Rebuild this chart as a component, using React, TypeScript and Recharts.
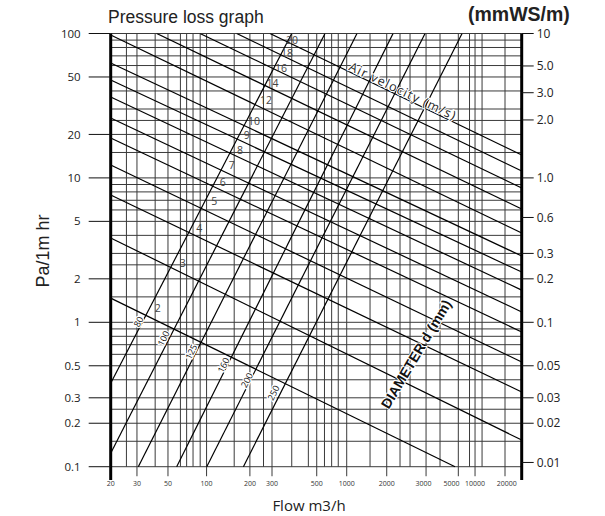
import React from 'react';
import { ComposedChart, Line, XAxis, YAxis, ReferenceLine, ReferenceDot } from 'recharts';

// flow axis (m3/h), log scale; label positions
const FLOW_TICKS = [20, 31, 52, 99, 204, 295, 622, 1026, 2000, 3700, 5900, 8729, 14800];
const FLOW_LABELS = ['20', '30', '50', '100', '200', '300', '500', '1000', '2000', '3000', '5000', '10000', '20000'];
const FLOW_MAJOR = [31, 52, 99, 204, 295, 622, 1026, 2000, 3855, 6603, 8729, 14390];
const FLOW_GRID = [26, 31, 42, 52, 64, 71, 79, 89, 99, 157, 204, 256, 295, 410, 541, 622, 708, 798, 891, 1026, 1514, 2000, 2497, 2951, 3855, 4867, 6603, 7962, 8729, 9811, 14390];

// pressure axis (Pa per m), log scale
const PA_TICKS = [0.1, 0.2, 0.3, 0.5, 1, 2, 5, 10, 20, 50, 100];
const PA_GRID = [
  0.1, 0.15, 0.2, 0.25, 0.3, 0.4, 0.5, 0.6, 0.7, 0.8, 0.9,
  1, 1.5, 2, 2.5, 3, 4, 5, 6, 7, 8, 9,
  10, 15, 20, 25, 30, 40, 50, 60, 70, 80, 90, 100,
];

// right hand scale (mmWS/m), drawn where the sheet puts it
const MMWS_POS = [100, 59.6, 38.9, 25.2, 10, 5.32, 3, 2, 1, 0.5, 0.3, 0.2, 0.107];
const MMWS_LABELS = ['10', '5.0', '3.0', '2.0', '1.0', '0.6', '0.3', '0.2', '0.1', '0.05', '0.03', '0.02', '0.01'];

// duct diameter lines (mm)
const DIAMETERS = ['80', '100', '125', '160', '200', '250'];
const DIA_START_Q = [20, 20, 31.7, 60.1, 99.3, 183];
const DIA_START_P = [0.378, 0.124, 0.1, 0.1, 0.1, 0.1];
const DIA_END_Q = [410, 714, 1218, 2223, 3790, 7030];
const DIA_END_P = [100, 100, 100, 100, 100, 100];
const DIA_LABEL_Q = [31.7, 48.1, 76.4, 130.9, 193.4, 301.5];
const DIA_LABEL_P = [1.01, 0.775, 0.626, 0.506, 0.398, 0.325];

// air velocity lines (m/s)
const VELOCITIES = ['2', '3', '4', '5', '6', '7', '8', '9', '10', '12', '14', '16', '18', '20'];
const VEL_START_Q = [20, 20, 20, 20, 20, 20, 20, 20, 20, 20, 43.1, 88.7, 163.7, 285];
const VEL_START_P = [1.47, 3.84, 7.61, 12.28, 18.9, 26.0, 36.3, 47.6, 62.5, 97.6, 100, 100, 100, 100];
const VEL_END_Q = [6252, 19012, 19012, 19012, 19012, 19012, 19012, 19012, 19012, 19012, 19012, 19012, 19012, 19012];
const VEL_END_P = [0.1, 0.153, 0.329, 0.531, 0.857, 1.18, 1.67, 2.23, 2.88, 4.15, 6.09, 8.51, 11.16, 14.4];
const VEL_LABEL_Q = [43.8, 66.5, 87.7, 112.6, 129.6, 150.6, 173, 193.4, 218.4, 267, 297.6, 343, 379, 412];
const VEL_LABEL_P = [1.25, 2.56, 4.48, 6.89, 9.32, 12.34, 15.68, 19.72, 24.66, 34.8, 45.4, 57.7, 73.3, 90.2];

const Q_MIN = 20;
const Q_MAX = 19012;
const P_MIN = 0.0809;
const P_MAX = 100;

const FONT = "'Open Sans', 'Liberation Sans', Arial, sans-serif";
const ARIAL = "'Liberation Sans', Arial, sans-serif";
const GRID = '#3a3a3a';

const App: React.FC = () => {
  const diaData = DIAMETERS.map((d, i) => [
    { q: DIA_START_Q[i], p: DIA_START_P[i] },
    { q: DIA_END_Q[i], p: DIA_END_P[i] },
  ]);
  const velData = VELOCITIES.map((v, i) => [
    { q: VEL_START_Q[i], p: VEL_START_P[i] },
    { q: VEL_END_Q[i], p: VEL_END_P[i] },
  ]);

  return (
    <div style={{ position: 'absolute', left: 0, top: 0, width: 605, height: 516, background: '#fff' }}>
      <ComposedChart width={605} height={516} margin={{ top: 33.5, right: 13.3, bottom: 16, left: 50.7 }}>
        <XAxis
          dataKey="q" type="number" scale="log" domain={[Q_MIN, Q_MAX]} allowDataOverflow
          ticks={FLOW_TICKS} interval={0} tickFormatter={(v: number, i: number) => FLOW_LABELS[i]}
          tickLine={false} axisLine={false} tickSize={0} tickMargin={1} height={20}
          tick={{ fontSize: 7, fill: '#333', fontFamily: FONT }}
        />
        <YAxis
          yAxisId="l" type="number" scale="log" domain={[P_MIN, P_MAX]} allowDataOverflow
          ticks={PA_TICKS} interval={0} tickFormatter={(v: number) => String(v)}
          tickSize={22} tickLine={{ stroke: '#111' }} axisLine={false} width={60} tickMargin={8}
          tick={{ fontSize: 11.5, fill: '#222', fontFamily: FONT }}
        />
        <YAxis
          yAxisId="r" orientation="right" type="number" scale="log" domain={[P_MIN, P_MAX]} allowDataOverflow
          ticks={MMWS_POS} interval={0} tickFormatter={(v: number, i: number) => MMWS_LABELS[i]}
          tickSize={12} tickLine={{ stroke: '#111' }} axisLine={false} width={70} tickMargin={3}
          tick={{ fontSize: 12, fill: '#222', fontFamily: FONT }}
        />

        {PA_GRID.map((v) => (
          <ReferenceLine key={'h' + v} yAxisId="l" ifOverflow="visible"
            segment={[{ x: Q_MIN, y: v }, { x: Q_MAX, y: v }]} stroke={GRID} strokeWidth={1} />
        ))}
        {FLOW_GRID.map((v) => (
          <ReferenceLine key={'v' + v} yAxisId="l" ifOverflow="visible"
            segment={[{ x: v, y: FLOW_MAJOR.includes(v) ? P_MIN + 0.005 : 0.1 }, { x: v, y: P_MAX }]}
            stroke={GRID} strokeWidth={1} />
        ))}
        <ReferenceLine yAxisId="l" ifOverflow="visible" segment={[{ x: Q_MIN, y: P_MIN }, { x: Q_MIN, y: P_MAX }]} stroke="#000" strokeWidth={3} />
        <ReferenceLine yAxisId="l" ifOverflow="visible" segment={[{ x: Q_MAX, y: P_MIN }, { x: Q_MAX, y: P_MAX }]} stroke="#000" strokeWidth={3} />

        {diaData.map((d, i) => (
          <Line key={'d' + i} yAxisId="l" data={d} dataKey="p" type="linear" stroke="#000" strokeWidth={1.2}
            dot={false} activeDot={false} isAnimationActive={false} />
        ))}
        {velData.map((d, i) => (
          <Line key={'s' + i} yAxisId="l" data={d} dataKey="p" type="linear" stroke="#000" strokeWidth={1.2}
            dot={false} activeDot={false} isAnimationActive={false} />
        ))}

        {DIAMETERS.map((d, i) => (
          <ReferenceDot key={'dl' + i} yAxisId="l" x={DIA_LABEL_Q[i]} y={DIA_LABEL_P[i]} r={0} ifOverflow="visible"
            shape={(p: any) => (
              <text x={p.cx} y={p.cy} transform={`rotate(-63 ${p.cx} ${p.cy})`} textAnchor="middle" dominantBaseline="central"
                fontSize={9} fontFamily={FONT} fill="#111" stroke="#fff" strokeWidth={2.5} paintOrder="stroke">{d}</text>
            )} />
        ))}
        {VELOCITIES.map((v, i) => (
          <ReferenceDot key={'vl' + i} yAxisId="l" x={VEL_LABEL_Q[i]} y={VEL_LABEL_P[i]} r={0} ifOverflow="visible"
            shape={(p: any) => (
              <text x={p.cx} y={p.cy} textAnchor="middle" dominantBaseline="central"
                fontSize={10.5} fontFamily={FONT} fill="#444">{v}</text>
            )} />
        ))}
        <ReferenceDot yAxisId="l" x={1049} y={56} r={0} ifOverflow="visible"
          shape={(p: any) => (
            <text x={p.cx} y={p.cy} transform={`rotate(25.6 ${p.cx} ${p.cy})`} fontSize={12.5} letterSpacing={1.2}
              fontFamily={FONT} fill="#222" stroke="#fff" strokeWidth={2} paintOrder="stroke">Air velocity (m/s)</text>
          )} />
        <ReferenceDot yAxisId="l" x={3261} y={0.603} r={0} ifOverflow="visible"
          shape={(p: any) => (
            <text x={p.cx} y={p.cy} transform={`rotate(-59.3 ${p.cx} ${p.cy})`} textAnchor="middle" dominantBaseline="central"
              fontSize={14} fontWeight="bold" fontFamily={ARIAL} fill="#111" stroke="#fff" strokeWidth={2} paintOrder="stroke">DIAMETER d (mm)</text>
          )} />
      </ComposedChart>

      <svg width={605} height={516} style={{ position: 'absolute', left: 0, top: 0, pointerEvents: 'none' }}>
        <text x={108} y={22.7} fontSize={17.5} fontFamily={ARIAL} fill="#222">Pressure loss graph</text>
        <text x={468} y={21} fontSize={19.5} fontWeight="bold" fontFamily={ARIAL} fill="#222">(mmWS/m)</text>
        <text transform="translate(49 251) rotate(-90)" textAnchor="middle" fontSize={18} fontFamily={ARIAL} fill="#222">Pa/1m hr</text>
        <text x={309} y={510.5} textAnchor="middle" fontSize={15} fontFamily={FONT} fill="#222">Flow m3/h</text>
      </svg>
    </div>
  );
};

export default App;
